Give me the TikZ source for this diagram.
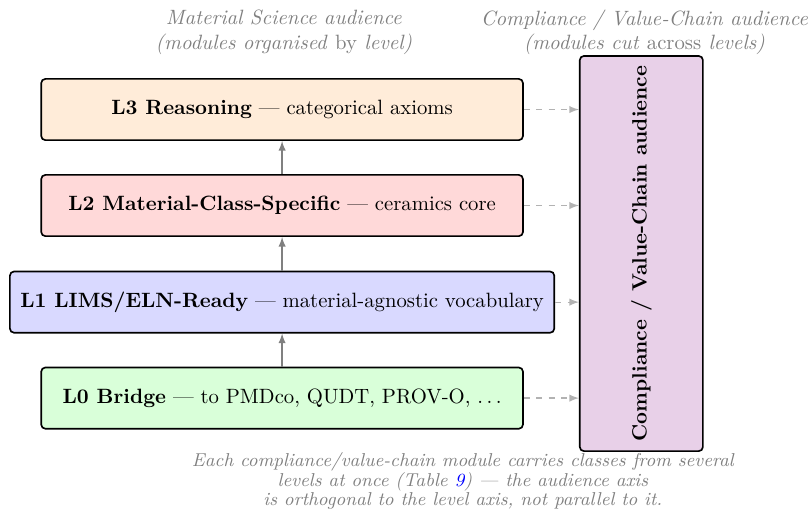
\documentclass[tikz,border=0pt]{standalone}
\usepackage{tikz}
\usetikzlibrary{positioning, calc}

\definecolor{crossfill}{RGB}{232,208,232}

\begin{document}
\begin{tikzpicture}[
    lvl/.style = {draw, thick, rounded corners=2pt, minimum width=8.18cm, minimum height=1.04cm, inner xsep=5pt},
    crossbox/.style = {draw, thick, rounded corners=2pt, fill=crossfill, rotate=90, minimum width=6.71cm, minimum height=2.09cm},
    note/.style = {text=gray, font=\itshape, align=center},
    uparrow/.style = {-latex, gray, semithick},
    feed/.style = {-latex, gray!60, dashed, semithick}
  ]
  \useasboundingbox (0,0) rectangle (13.72,-8.66);
  % audience headings
  \node[note] (msci) at (4.82,-0.55) {Material Science audience\\(modules organised \emph{by} level)};
  \node[note] (cvc) at (10.94,-0.55) {Compliance / Value-Chain audience\\(modules cut \emph{across} levels)};
  % the level stack
  \node[lvl, fill=orange!15] (l3) at (4.79,-1.86) {\textbf{L3 Reasoning} --- categorical axioms};
  \node[lvl, fill=red!15] (l2) at (4.79,-3.49) {\textbf{L2 Material-Class-Specific} --- ceramics core};
  \node[lvl, fill=blue!15] (l1) at (4.79,-5.13) {\textbf{L1 LIMS/ELN-Ready} --- material-agnostic vocabulary};
  \node[lvl, fill=green!15] (l0) at (4.79,-6.76) {\textbf{L0 Bridge} --- to PMDco, QUDT, PROV-O, $\ldots$};
  \draw[uparrow] (l0) -- (l1);
  \draw[uparrow] (l1) -- (l2);
  \draw[uparrow] (l2) -- (l3);
  % cross-cutting audience
  \node[crossbox] (comp) at (10.89,-4.305) {\textbf{Compliance / Value-Chain audience}};
  \foreach \lv in {l3,l2,l1,l0}
    \draw[feed] (\lv.east) -- (\lv.east -| comp.north);
  \node[note, font=\small\itshape, inner ysep=1pt] (cap) at (7.86,-8.17) {Each compliance/value-chain module carries classes from several\\[-1.5pt]levels at once (Table \textcolor{blue}{9}) --- the audience axis\\[-1.5pt]is orthogonal to the level axis, not parallel to it.};
\end{tikzpicture}
\end{document}
